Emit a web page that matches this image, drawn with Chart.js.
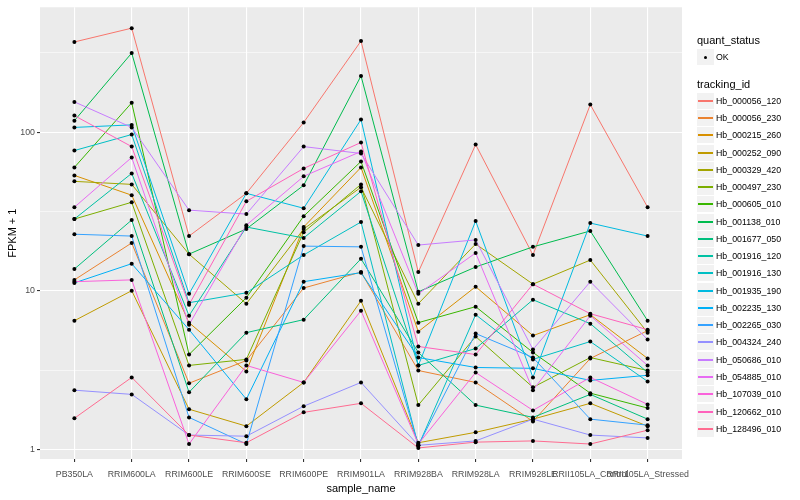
<!DOCTYPE html>
<html>
<head>
<meta charset="utf-8">
<title>FPKM + 1 by sample_name</title>
<style>
  body { margin: 0; background: #fff; font-family: "Liberation Sans", Arial, sans-serif; }
  #wrap { position: relative; width: 800px; height: 500px; }
  canvas { position: absolute; left: 0; top: 0; }
  .lt { position: absolute; font-size: 11px; color: #000; line-height: 12px; }
  .lg { position: absolute; font-size: 8.8px; color: #000; line-height: 10px; white-space: nowrap; }
  .key { position: absolute; width: 17px; height: 16px; background: #F2F2F2; }
  .key i { position: absolute; left: 1px; width: 15px; top: 7px; height: 2px; display: block; }
  .key b { position: absolute; left: 6.5px; top: 6.5px; width: 3.6px; height: 3.6px; border-radius: 50%; background: #000; }
</style>
<script src="https://cdn.jsdelivr.net/npm/chart.js"></script>
</head>
<body>
<div id="wrap">
  <canvas id="chart" width="800" height="500"></canvas>
  <div id="legend"></div>
</div>
<script>
const samples = ['PB350LA', 'RRIM600LA', 'RRIM600LE', 'RRIM600SE', 'RRIM600PE', 'RRIM901LA',
  'RRIM928BA', 'RRIM928LA', 'RRIM928LE', 'RRII105LA_Control', 'RRII105LA_Stressed'];

const trackingIds = ['Hb_000056_120', 'Hb_000056_230', 'Hb_000215_260', 'Hb_000252_090', 'Hb_000329_420',
  'Hb_000497_230', 'Hb_000605_010', 'Hb_001138_010', 'Hb_001677_050', 'Hb_001916_120', 'Hb_001916_130',
  'Hb_001935_190', 'Hb_002235_130', 'Hb_002265_030', 'Hb_004324_240', 'Hb_050686_010', 'Hb_054885_010',
  'Hb_107039_010', 'Hb_120662_010', 'Hb_128496_010'];

const colors = ['#F8766D', '#EA8331', '#D89000', '#C09B00', '#A3A500', '#7CAE00', '#39B600', '#00BB4E',
  '#00BF7D', '#00C1A3', '#00BFC4', '#00BAE0', '#00B0F6', '#35A2FF', '#9590FF', '#C77CFF', '#E76BF3',
  '#FA62DB', '#FF62BC', '#FF6C91'];

// FPKM + 1, one value per sample
const hb_000056_120 = [370, 452, 22.1, 41.1, 115, 375, 13.1, 83.4, 16.8, 149, 33.6];
const hb_000056_230 = [11.7, 20.0, 2.61, 3.63, 10.4, 13.1, 3.14, 2.64, 1.50, 3.74, 5.60];
const hb_000215_260 = [53.3, 40.0, 6.29, 3.10, 25.2, 59.9, 5.52, 10.6, 5.21, 7.06, 3.74];
const hb_000252_090 = [6.47, 10.0, 1.79, 1.40, 2.64, 8.64, 1.10, 1.28, 1.55, 1.95, 1.40];
const hb_000329_420 = [48.9, 46.8, 17.0, 8.28, 24.5, 44.9, 8.28, 19.7, 11.0, 15.6, 5.44];
const hb_000497_230 = [28.3, 36.1, 3.38, 3.69, 23.4, 46.8, 1.90, 5.14, 2.46, 3.79, 3.14];
const hb_000605_010 = [59.9, 153, 3.96, 9.03, 29.5, 65.3, 6.29, 7.93, 4.08, 2.26, 1.82];
const hb_001138_010 = [118, 315, 17.0, 24.5, 46.2, 226, 9.84, 14.1, 18.9, 23.8, 6.47];
const hb_001677_050 = [13.7, 27.9, 2.29, 5.44, 6.57, 15.9, 4.08, 1.90, 1.59, 2.22, 1.55];
const hb_001916_120 = [28.3, 54.9, 6.96, 25.2, 21.5, 42.3, 3.38, 4.32, 8.77, 6.20, 3.05];
const hb_001916_130 = [76.5, 96.5, 8.40, 9.70, 16.8, 27.1, 1.05, 7.06, 3.69, 4.78, 2.68];
const hb_001935_190 = [107, 111, 9.56, 41.1, 33.1, 120, 3.38, 27.5, 2.84, 26.7, 22.1];
const hb_002235_130 = [11.2, 14.8, 5.68, 2.07, 11.4, 13.0, 3.79, 3.28, 3.24, 2.72, 2.93];
const hb_002265_030 = [22.7, 22.1, 1.59, 1.08, 19.1, 18.9, 1.06, 5.37, 3.79, 1.55, 1.42];
const hb_004324_240 = [2.36, 2.22, 1.23, 1.21, 1.87, 2.64, 1.06, 1.13, 1.55, 1.23, 1.18];
const hb_050686_010 = [155, 107, 32.2, 30.4, 81.0, 73.3, 19.4, 20.9, 4.26, 11.4, 4.92];
const hb_054885_010 = [33.6, 69.2, 6.11, 25.9, 52.6, 75.5, 9.56, 17.3, 2.36, 6.96, 3.38];
const hb_107039_010 = [11.4, 11.7, 1.08, 3.38, 2.64, 7.48, 1.08, 3.05, 1.76, 2.84, 1.92];
const hb_120662_010 = [127, 81.0, 8.16, 36.6, 59.0, 86.0, 4.45, 3.96, 11.0, 7.16, 5.68];
const hb_128496_010 = [1.57, 2.84, 1.23, 1.10, 1.71, 1.95, 1.02, 1.11, 1.13, 1.08, 1.32];

const seriesValues = [hb_000056_120, hb_000056_230, hb_000215_260, hb_000252_090, hb_000329_420,
  hb_000497_230, hb_000605_010, hb_001138_010, hb_001677_050, hb_001916_120, hb_001916_130,
  hb_001935_190, hb_002235_130, hb_002265_030, hb_004324_240, hb_050686_010, hb_054885_010,
  hb_107039_010, hb_120662_010, hb_128496_010];

const majorTicks = [1, 10, 100];
const yTicks = [1, 3.1623, 10, 31.623, 100, 316.23];

const datasets = [];
seriesValues.forEach((vals, i) => {
  datasets.push({
    label: trackingIds[i],
    data: vals.map((v, j) => ({ x: j, y: v })),
    borderColor: colors[i],
    borderWidth: 1,
    pointRadius: 0,
    order: 100 + (19 - i)
  });
});
// points drawn on top of all the lines, like geom_point after geom_line
seriesValues.forEach((vals, i) => {
  datasets.push({
    label: trackingIds[i] + ' OK',
    data: vals.map((v, j) => ({ x: j, y: v })),
    showLine: false,
    pointRadius: 2,
    pointBackgroundColor: '#000',
    pointBorderWidth: 0,
    order: 0
  });
});

const panelBg = {
  id: 'panelBg',
  beforeDraw(c) {
    const a = c.chartArea, ctx = c.ctx;
    ctx.save();
    ctx.fillStyle = '#EBEBEB';
    ctx.fillRect(a.left, a.top, a.right - a.left, a.bottom - a.top);
    ctx.restore();
  }
};

const isMajor = v => majorTicks.some(m => Math.abs(m - v) < 1e-6);

new Chart(document.getElementById('chart'), {
  type: 'line',
  data: { datasets },
  plugins: [panelBg],
  options: {
    responsive: false,
    animation: false,
    layout: { padding: { left: 0, right: 118, top: 5, bottom: 0 } },
    plugins: { legend: { display: false }, tooltip: { enabled: false } },
    scales: {
      x: {
        type: 'linear',
        min: -0.6,
        max: 10.6,
        afterBuildTicks: s => { s.ticks = samples.map((n, i) => ({ value: i })); },
        afterFit: s => { s.height = 41; },
        border: { display: false },
        grid: { color: '#FFFFFF', lineWidth: 1.1, tickColor: '#333333', tickLength: 3 },
        ticks: {
          callback: v => samples[v],
          color: '#4D4D4D',
          font: { size: 8.8, family: '"Liberation Sans", Arial, sans-serif' },
          maxRotation: 0, minRotation: 0, autoSkip: false, padding: 7
        },
        title: {
          display: true, text: 'sample_name', color: '#000',
          font: { size: 11, family: '"Liberation Sans", Arial, sans-serif' },
          padding: { top: 0, bottom: 4 }
        }
      },
      y: {
        type: 'logarithmic',
        min: 0.869,
        max: 612,
        afterBuildTicks: s => { s.ticks = yTicks.map(v => ({ value: v })); },
        afterFit: s => { s.width = 40; },
        border: { display: false },
        grid: {
          color: '#FFFFFF',
          lineWidth: ctx => (ctx.tick && isMajor(ctx.tick.value)) ? 1.1 : 0.55,
          tickColor: ctx => (ctx.tick && isMajor(ctx.tick.value)) ? '#333333' : 'rgba(0,0,0,0)',
          tickLength: 3
        },
        ticks: {
          callback: v => isMajor(v) ? String(Math.round(v)) : '',
          color: '#4D4D4D',
          font: { size: 8.8, family: '"Liberation Sans", Arial, sans-serif' },
          padding: 2
        },
        title: {
          display: true, text: 'FPKM + 1', color: '#000',
          font: { size: 11, family: '"Liberation Sans", Arial, sans-serif' },
          padding: { top: 6, bottom: 2 }
        }
      }
    }
  }
});

// legend (ggplot style, right side)
const legend = document.getElementById('legend');
let html = '<div class="lt" style="left:697px;top:34px">quant_status</div>';
html += '<div class="key" style="left:697px;top:49px"><b></b></div>';
html += '<div class="lg" style="left:716px;top:52px">OK</div>';
html += '<div class="lt" style="left:697px;top:78px">tracking_id</div>';
trackingIds.forEach((id, i) => {
  const cy = Math.round(100.7 + i * 17.27);
  html += '<div class="key" style="left:697px;top:' + (cy - 8) + 'px"><i style="background-color:' + colors[i] + '"></i></div>';
  html += '<div class="lg" style="left:716px;top:' + (cy - 5) + 'px">' + id + '</div>';
});
legend.innerHTML = html;
</script>
</body>
</html>
